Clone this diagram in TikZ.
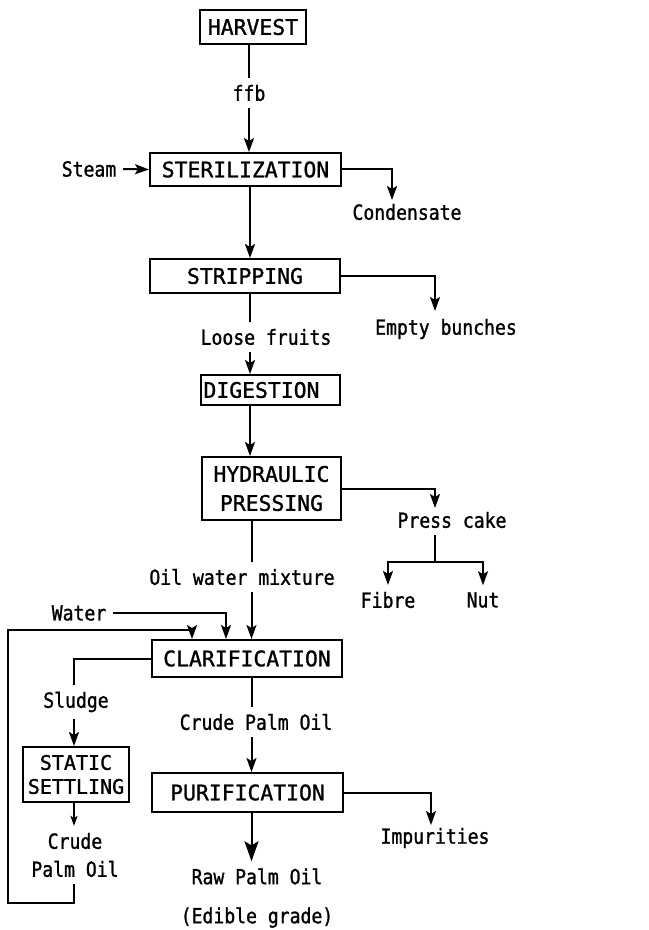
\documentclass[tikz,border=0pt]{standalone}
\usepackage{fontspec}
\newfontfamily\boxfont[FakeBold=1.2]{DejaVu Sans Mono}
\newfontfamily\labfont[FakeStretch=0.87,FakeBold=1.2]{DejaVu Sans Mono}
\usetikzlibrary{arrows.meta}
\begin{document}
\begin{tikzpicture}[x=0.5pt,y=-0.5pt, line width=1pt,
  proc/.style={draw, line width=1pt, inner sep=0pt, font=\boxfont\fontsize{10.7}{14.5}\selectfont},
  lab/.style={inner sep=3pt, font=\labfont\fontsize{10.4}{14}\selectfont},
  arr/.style={-{Stealth[length=7pt,width=5pt,inset=1.5pt]}},
  arrsmall/.style={-{Stealth[length=5pt,width=3.5pt,inset=1pt]}},
  arrbig/.style={-{Stealth[length=10pt,width=7pt,inset=2pt]}}]
\useasboundingbox (0,0) rectangle (648,930);
\coordinate (ax1) at (250,0);
\coordinate (ax2) at (251.5,0);
\coordinate (ax3) at (74,0);
% process boxes
\node[proc, minimum width=53pt, minimum height=17pt] (harvest) at (253,27) {HARVEST};
\node[proc, minimum width=95.5pt, minimum height=16.5pt] (steril) at (245.5,169.5) {STERILIZATION};
\node[proc, minimum width=95pt, minimum height=17pt] (strip) at (245,276) {STRIPPING};
\node[proc, minimum width=69.5pt, minimum height=15pt] (dig) at (270.5,390) {DIGESTION\hspace*{9pt}};
\node[proc, minimum width=69.5pt, minimum height=31.5pt, align=center] (hyd) at (271.5,488.5) {HYDRAULIC\\PRESSING};
\node[proc, minimum width=95pt, minimum height=18.5pt] (clar) at (247,658.5) {CLARIFICATION};
\node[proc, minimum width=53pt, minimum height=27.5pt, align=center, font=\boxfont\fontsize{10}{12}\selectfont] (static) at (76,774.5) {STATIC\\SETTLING};
\node[proc, minimum width=95.5pt, minimum height=19.5pt] (purif) at (247.5,792.5) {PURIFICATION};
% labels
\node[lab] (ffb) at (249,93) {ffb};
\node[lab] (steam) at (89,169) {Steam};
\node[lab] (cond) at (407,212) {Condensate};
\node[lab] (empty) at (446,329) {Empty bunches};
\node[lab] (loose) at (266,337) {Loose fruits};
\node[lab] (press) at (452,520) {Press cake};
\node[lab] (fibre) at (388,600) {Fibre};
\node[lab] (nut) at (483,600) {Nut};
\node[lab] (owm) at (242,577) {Oil water mixture};
\node[lab] (water) at (79,613) {Water};
\node[lab] (sludge) at (76,702) {Sludge};
\node[lab, align=center] (cpo) at (75,855) {Crude\\Palm Oil};
\node[lab] (cpo1) at (256,722) {Crude Palm Oil};
\node[lab] (imp) at (435,838) {Impurities};
\node[lab, align=center, font=\labfont\fontsize{10.4}{19.5}\selectfont] (raw) at (257,898) {Raw Palm Oil\\(Edible grade)};
% free ends
\coordinate (condin) at (392,200);
\coordinate (emptyin) at (435,311);
\coordinate (pressin) at (435,508);
\coordinate (split) at (435,562);
\coordinate (win) at (226,0);
\coordinate (loopx) at (8,0);
\coordinate (loopy) at (0,630);
\coordinate (loopbot) at (0,903);
\coordinate (loopin) at (192,0);
\coordinate (impin) at (431,825);
% main flow
\draw (harvest.south -| ffb) -- (ffb.north);
\draw[arr] (ffb.south) -- (ffb |- steril.north);
\draw[arr] (steam.east) -- (steril.west);
\draw[arr] (steril.east) -| (condin);
\draw[arr] (steril.south -| ax1) -- (strip.north -| ax1);
\draw[arr] (strip.east) -| (emptyin);
\draw (strip.south -| ax1) -- (loose.north -| ax1);
\draw[arr] (loose.south -| ax1) -- (dig.north -| ax1);
\draw[arr] (dig.south -| ax1) -- (hyd.north -| ax1);
\draw[arr] (hyd.east) -| (pressin);
\draw (press.south -| split) -- (split);
\draw[arr] (split) -| (fibre.north);
\draw[arr] (split) -| (nut.north);
\draw (hyd.south -| ax2) -- (owm.north -| ax2);
\draw[arr] (owm.south -| ax2) -- (clar.north -| ax2);
\draw[arr] (water.east) -- (water.east -| win) -- (win |- clar.north);
\draw[arr] (cpo.south -| ax3) -- (ax3 |- loopbot) -| (loopx |- loopy) -| (loopin |- clar.north);
\draw (clar.west) -| (sludge.north -| ax3);
\draw[arr] (sludge.south -| ax3) -- (static.north -| ax3);
\draw[arrsmall] (static.south -| ax3) -- (cpo.north -| ax3);
\draw (clar.south -| ax2) -- (cpo1.north -| ax2);
\draw[arr] (cpo1.south -| ax2) -- (purif.north -| ax2);
\draw[arr] (purif.east) -| (impin);
\draw[arrbig] (purif.south -| ax2) -- (raw.north -| ax2);
\end{tikzpicture}
\end{document}
